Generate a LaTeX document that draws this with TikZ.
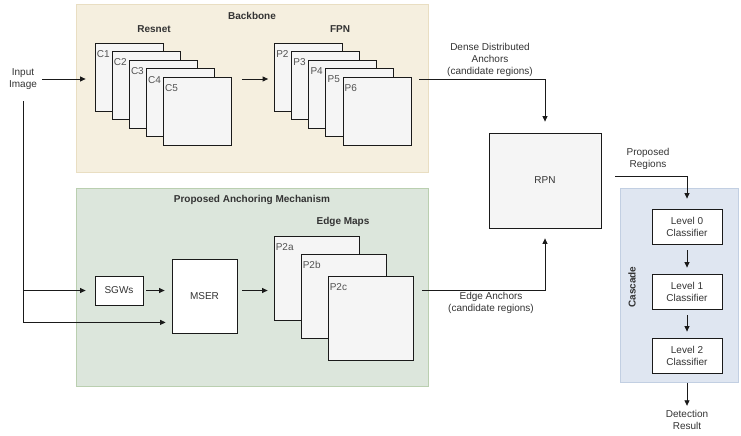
\documentclass[tikz,border=0pt]{standalone}
\usepackage{fontspec}
\setmainfont{Liberation Sans}
\usetikzlibrary{arrows.meta,positioning,calc}
\definecolor{bbfill}{HTML}{F5EFDF}
\definecolor{bbdraw}{HTML}{E9DEC2}
\definecolor{pafill}{HTML}{DCE6DC}
\definecolor{padraw}{HTML}{BACFB0}
\definecolor{cafill}{HTML}{DFE6F1}
\definecolor{cadraw}{HTML}{C2CFE2}
\definecolor{mapf}{HTML}{F5F5F5}
\definecolor{lin}{HTML}{1A1A1A}
\definecolor{txt}{HTML}{333333}
\tikzset{
  pfeil/.style={-{Triangle[length=5.5pt,width=5pt]},lin,line width=0.8pt},
  gruppe/.style={inner sep=0pt,line width=0.8pt},
  fmap/.style={draw=lin,fill=mapf,line width=0.8pt,inner sep=0pt},
  kasten/.style={draw=lin,fill=white,line width=0.8pt,inner sep=0pt,text=txt,align=center},
  titel/.style={text=txt,font=\bfseries},
  txtn/.style={text=txt,align=center},
  ecke/.style={anchor=north west,inner xsep=2pt,inner ysep=7.5pt,text=txt!85},
}

\begin{document}
\begin{tikzpicture}[x=1pt,y=-1pt,font=\fontsize{10}{12}\selectfont]
  \useasboundingbox (0,0) rectangle (741,436);
  \node[gruppe,draw=bbdraw,fill=bbfill,minimum width=352,minimum height=168] (bb) at (252,88) {};
  \node[gruppe,draw=padraw,fill=pafill,minimum width=352,minimum height=198] (pa) at (252,287) {};
  \node[gruppe,draw=cadraw,fill=cafill,minimum width=118,minimum height=194] (ca) at (679,285) {};
  \node[titel] (bbt) at (252,16) {Backbone};
  \node[titel] (rst) at (154,29) {Resnet};
  \node[titel] (fpt) at (340,29) {FPN};
  \node[titel] (pat) at (252,200) {Proposed Anchoring Mechanism};
  \node[titel] (emt) at (343,222) {Edge Maps};
  \node[titel,rotate=90] (cat) at (632,287) {Cascade};
  \foreach \i in {1,...,5}
    \node[fmap,minimum width=68,minimum height=68,label={[ecke]north west:C\i}] (c\i)
      at ({129+17.1*(\i-1)},{77+8.6*(\i-1)}) {};
  \foreach \i [evaluate=\i as \k using int(\i+1)] in {1,...,5}
    \node[fmap,minimum width=68,minimum height=68,label={[ecke]north west:P\k}] (p\k)
      at ({308.5+17.1*(\i-1)},{77+8.6*(\i-1)}) {};
  \foreach \n/\x/\y in {a/316.5/278,b/343.5/296,c/370.5/318}
    \node[fmap,minimum width=85,minimum height=84,label={[ecke]north west:P2\n}] (p2\n) at (\x,\y) {};
  \node[txtn] (in) at (23,79) {Input\\Image};
  \node[kasten,minimum width=48,minimum height=29] (sgw) at (119,290.5) {SGWs};
  \node[kasten,minimum width=65,minimum height=74] (mser) at (204.5,296) {MSER};
  \node[kasten,fill=mapf,minimum width=112,minimum height=95] (rpn) at (545,180.5) {RPN};
  \node[kasten,minimum width=70,minimum height=35] (l0) at (687,226.5) {Level 0\\Classifier};
  \node[kasten,minimum width=70,minimum height=35] (l1) at (687,291.5) {Level 1\\Classifier};
  \node[kasten,minimum width=70,minimum height=35] (l2) at (687,355.5) {Level 2\\Classifier};
  \node[txtn] (out) at (687,420) {Detection\\Result};
  \node[txtn] (dda) at (490,60) {Dense Distributed\\Anchors\\(candidate regions)};
  \node[txtn] (eda) at (491,303) {Edge Anchors\\(candidate regions)};
  \node[txtn] (prg) at (648,159) {Proposed\\Regions};
  \draw[pfeil,shorten <=2,shorten >=9] (in.east) -- (in.east -| c1.west);
  \draw[pfeil,shorten <=10,shorten >=6] (c5.east |- in.east) -- (p2.west |- in.east);
  \draw[pfeil,shorten <=8,shorten >=11] (p6.east |- in.east) -| (rpn.north);
  \draw[pfeil,shorten <=8,shorten >=9] (in.south) |- (sgw.west);
  \draw[pfeil,shorten <=8,shorten >=6] (in.south) |- ([yshift=11pt]mser.south west);
  \draw[pfeil,shorten <=3,shorten >=7] (sgw.east) -- (sgw.east -| mser.west);
  \draw[pfeil,shorten <=5,shorten >=6] (mser.east |- sgw.east) -- (p2a.west |- sgw.east);
  \draw[pfeil,shorten <=9,shorten >=10] (p2c.east |- sgw.east) -| (rpn.south);
  \draw[pfeil,shorten <=14,shorten >=10] ([yshift=4.5pt]rpn.east) -| (l0.north);
  \draw[pfeil,shorten <=6,shorten >=6] (l0) -- (l1);
  \draw[pfeil,shorten <=6,shorten >=6] (l1) -- (l2);
  \draw[pfeil,shorten <=10,shorten >=1] (l2) -- (out);
\end{tikzpicture}
\end{document}
